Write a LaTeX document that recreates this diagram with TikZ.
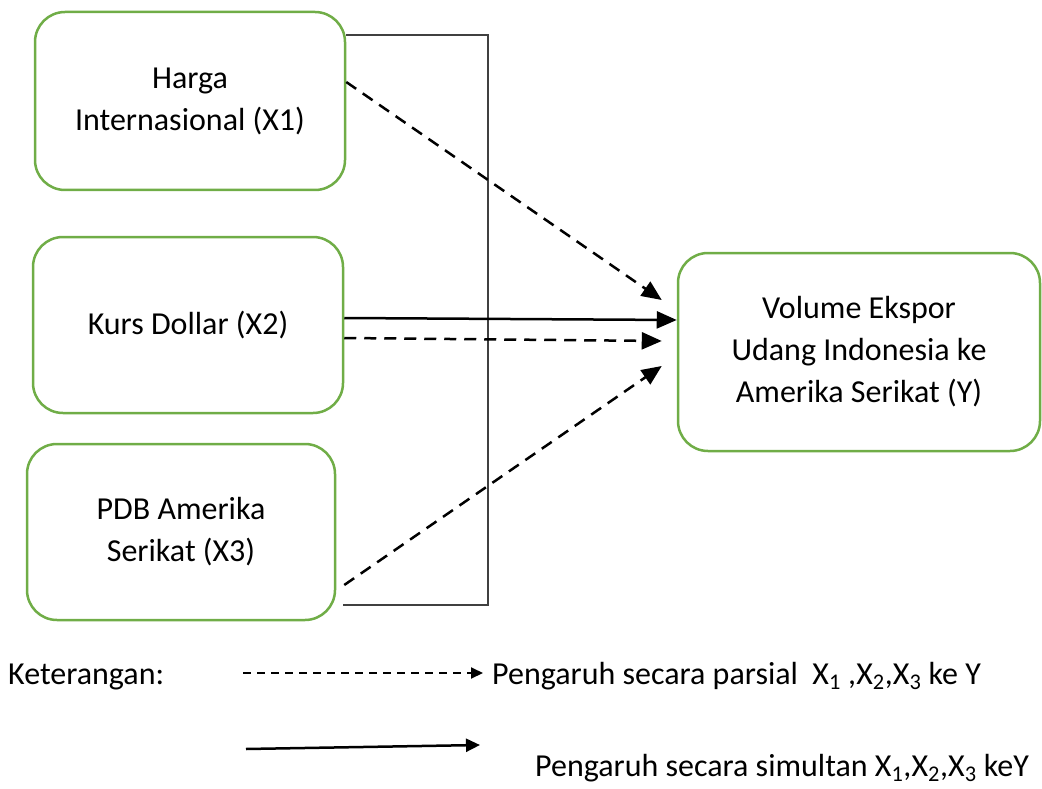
\documentclass[tikz,border=0pt]{standalone}
\usepackage{fontspec}
\setmainfont{Carlito}
\usetikzlibrary{arrows.meta}
\definecolor{boxgreen}{RGB}{112,173,71}
\definecolor{bracketgray}{RGB}{64,64,64}
\tikzset{
  varbox/.style={draw=boxgreen, line width=2.5pt, rounded corners=30pt, align=center,
    font=\fontsize{32}{42}\selectfont, inner sep=0pt},
  legendtext/.style={font=\fontsize{32}{38}\selectfont, anchor=base west, inner sep=0pt},
  dasharrow/.style={line width=2.5pt, dash pattern=on 12pt off 8pt,
    -{Triangle[length=20pt,width=17pt]}},
  solidarrow/.style={line width=2.5pt, -{Triangle[length=20pt,width=17pt]}},
}

\begin{document}
\begin{tikzpicture}[x=1pt,y=-1pt]
            \useasboundingbox (0,0) rectangle (1042,789);
            % variable boxes
            \node[varbox, minimum width=310pt, minimum height=178pt] (x1) at (190,101) {Harga\\ Internasional (X1)};
            \node[varbox, minimum width=310pt, minimum height=176pt] (x2) at (188,325) {Kurs Dollar (X2)};
            \node[varbox, minimum width=308pt, minimum height=176pt] (x3) at (181,532) {PDB Amerika\\ Serikat (X3)};
            \node[varbox, minimum width=362pt, minimum height=198pt] (y) at (859,352) {Volume Ekspor\\ Udang Indonesia ke\\ Amerika Serikat (Y)};
            % bracket
            \coordinate (btop) at (488,35);
            \coordinate (bbot) at (488,605);
            \draw[bracketgray, line width=1.5pt] (x1.east |- btop) -- (btop) -- (bbot) -- (343,605);
            % arrows
            \draw[dasharrow] ([yshift=19pt]x1.east) -- ([shift={(-15pt,52pt)}]y.west);
            \draw[solidarrow] ([yshift=7pt]x2.east) -- ([yshift=32pt]y.west);
            \draw[dasharrow] ([yshift=-13pt]x2.east) -- ([shift={(-15pt,11pt)}]y.west);
            \draw[dasharrow] ([shift={(8pt,-53pt)}]x3.east) -- ([shift={(-15pt,-14pt)}]y.west);
            % legend
            \node[legendtext] (ket) at (8,684) {Keterangan:};
            \coordinate (d1) at (243,673);
            \node[legendtext] (parsial) at (492,684)
              {Pengaruh secara parsial\ \ X\textsubscript{1} ,X\textsubscript{2},X\textsubscript{3} ke Y};
            \draw[line width=2pt, dash pattern=on 8pt off 6pt, -{Triangle[length=12pt,width=11pt]}, shorten >=9pt] (d1) -- (d1 -| parsial.west);
            \coordinate (s1) at (246,749);
            \coordinate (s2) at (480,745);
            \draw[line width=2.5pt, -{Triangle[length=14pt,width=13pt]}] (s1) -- (s2);
            \node[legendtext] (simultan) at (535,776)
              {Pengaruh secara simultan X\textsubscript{1},X\textsubscript{2},X\textsubscript{3} keY};
        \end{tikzpicture}
\end{document}
